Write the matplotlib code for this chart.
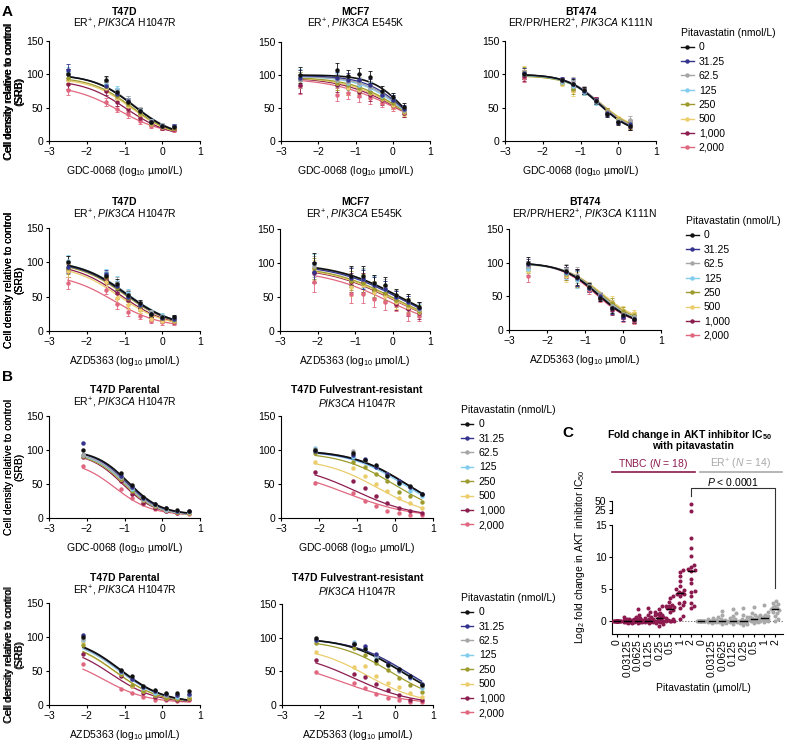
import numpy as np
import matplotlib
matplotlib.use("Agg")
import matplotlib.pyplot as plt
from matplotlib.lines import Line2D

plt.rcParams['font.family'] = ['Liberation Sans', 'DejaVu Sans']
plt.rcParams['mathtext.fontset'] = 'custom'
plt.rcParams['mathtext.rm'] = 'Liberation Sans'
plt.rcParams['mathtext.it'] = 'Liberation Sans:italic'
plt.rcParams['mathtext.bf'] = 'Liberation Sans:bold'
plt.rcParams['axes.linewidth'] = 0.8

# ---------------- data ----------------
pita_labels = ['0', '31.25', '62.5', '125', '250', '500', '1,000', '2,000']
colors = ['#111111', '#34348f', '#a6a6a6', '#82cdee', '#9d9b2e', '#ebcd6c', '#8c1d4f', '#e0677f']

x_a = [-2.5, -1.5, -1.2, -0.9, -0.6, -0.3, 0.0, 0.3]
x_b = [-2.1, -1.1, -0.8, -0.5, -0.2, 0.1, 0.4, 0.7]

# fits: (top, bottom, logIC50, hill) per pitavastatin dose
pts_a1 = [[100, 91, 73, 58, 45, 28, 23, 21], [107, 83, 70, 60, 45, 29, 23, 22],
          [100, 90, 75, 62, 47, 30, 24, 23], [103, 85, 78, 62, 46, 30, 24, 23],
          [95, 82, 68, 55, 42, 27, 22, 20], [92, 80, 65, 52, 40, 26, 21, 20],
          [86, 75, 58, 48, 35, 25, 20, 18], [77, 59, 48, 40, 30, 22, 19, 16]]
fit_a1 = [(100, 5, -0.75, 0.8), (100, 5, -0.75, 0.8), (100, 5, -0.72, 0.8), (100, 5, -0.73, 0.8),
          (96, 5, -0.8, 0.8), (94, 5, -0.82, 0.8), (92, 5, -0.95, 0.75), (84, 8, -1.15, 0.7)]
err_a1 = [8, 6, 5, 5, 4, 3, 3, 3]

pts_a2 = [[100, 108, 98, 101, 97, 76, 66, 51], [95, 95, 93, 92, 85, 70, 62, 48],
          [93, 92, 90, 88, 82, 70, 62, 47], [97, 93, 88, 85, 80, 68, 65, 47],
          [92, 88, 85, 80, 75, 65, 58, 45], [95, 88, 80, 78, 72, 63, 55, 44],
          [85, 85, 80, 75, 70, 62, 55, 42], [83, 70, 73, 68, 65, 58, 52, 42]]
fit_a2 = [(100, 0, 0.3, 1.0), (99, 0, 0.28, 0.85), (98, 0, 0.27, 0.8), (98, 0, 0.25, 0.75),
          (97, 0, 0.22, 0.65), (97, 0, 0.2, 0.6), (97, 0, 0.18, 0.55), (96, 0, 0.15, 0.5)]
err_a2 = [12, 10, 10, 9, 9, 7, 7, 6]

pts_a3 = [[100, 91, 85, 76, 60, 41, 28, 22], [102, 92, 86, 75, 61, 42, 29, 25],
          [103, 90, 88, 77, 60, 43, 30, 31], [100, 89, 83, 74, 58, 42, 30, 25],
          [104, 88, 78, 74, 60, 45, 32, 24], [105, 87, 75, 75, 61, 45, 33, 27],
          [97, 91, 83, 76, 62, 44, 30, 23], [95, 90, 82, 75, 62, 45, 30, 24]]
fit_a3 = [(100, 10, -0.5, 1.0), (100, 10, -0.48, 1.0), (100, 12, -0.47, 1.0), (99, 10, -0.5, 1.0),
          (98, 12, -0.45, 0.95), (98, 14, -0.45, 0.95), (99, 10, -0.48, 1.0), (99, 10, -0.47, 1.0)]
err_a3 = [7, 4, 8, 5, 4, 5, 4, 6]

pts_a4 = [[100, 80, 68, 52, 41, 25, 20, 20], [93, 83, 65, 50, 38, 25, 19, 18],
          [100, 82, 70, 53, 40, 27, 21, 19], [102, 85, 72, 55, 40, 27, 22, 18],
          [92, 78, 62, 48, 36, 24, 19, 16], [88, 72, 48, 38, 30, 18, 15, 15],
          [88, 75, 55, 45, 33, 20, 16, 14], [70, 60, 40, 28, 22, 15, 13, 13]]
fit_a4 = [(103, 5, -0.95, 0.7), (102, 5, -0.97, 0.7), (103, 5, -0.93, 0.7), (103, 5, -0.92, 0.7),
          (101, 5, -1.0, 0.7), (97, 5, -1.15, 0.7), (99, 5, -1.1, 0.7), (84, 5, -1.3, 0.7)]
err_a4 = [9, 6, 8, 6, 4, 4, 4, 4]

pts_a5 = [[100, 81, 81, 71, 68, 53, 45, 35], [87, 78, 76, 68, 62, 50, 42, 34],
          [95, 80, 78, 70, 65, 52, 44, 33], [98, 79, 77, 69, 62, 50, 42, 32],
          [92, 74, 70, 62, 56, 45, 38, 30], [90, 65, 68, 58, 52, 42, 35, 28],
          [85, 72, 72, 60, 55, 40, 32, 26], [72, 55, 55, 47, 42, 38, 25, 22]]
fit_a5 = [(100, 0, 0.2, 0.5), (98, 0, 0.15, 0.5), (99, 0, 0.18, 0.5), (99, 0, 0.15, 0.5),
          (96, 0, 0.05, 0.5), (95, 0, 0.0, 0.5), (94, 0, -0.02, 0.5), (90, 0, -0.15, 0.5)]
err_a5 = [15, 14, 14, 12, 11, 9, 10, 8]

pts_a6 = [[100, 88, 79, 64, 48, 33, 22, 16], [98, 86, 77, 63, 50, 32, 20, 17],
          [95, 90, 82, 66, 52, 36, 24, 20], [90, 84, 75, 62, 50, 35, 22, 20],
          [92, 83, 76, 64, 50, 40, 28, 22], [88, 80, 74, 65, 52, 42, 30, 25],
          [95, 85, 78, 62, 48, 30, 20, 15], [80, 82, 76, 60, 47, 32, 18, 14]]
fit_a6 = [(100, 5, -0.65, 0.9), (100, 5, -0.65, 0.9), (100, 6, -0.6, 0.9), (99, 6, -0.62, 0.9),
          (99, 8, -0.58, 0.9), (98, 10, -0.55, 0.9), (100, 5, -0.67, 0.9), (100, 5, -0.7, 0.9)]
err_a6 = [8, 8, 12, 6, 5, 8, 6, 5]

pts_b1 = [[100, 66, 48, 31, 21, 15, 12, 11], [111, 62, 45, 30, 20, 14, 11, 10],
          [92, 60, 45, 28, 19, 13, 10, 9], [93, 60, 43, 28, 19, 12, 10, 9],
          [91, 57, 40, 26, 18, 12, 9, 8], [92, 58, 42, 27, 18, 12, 9, 8],
          [90, 55, 35, 22, 15, 10, 8, 7], [76, 43, 29, 20, 13, 10, 7, 6]]
fit_b1 = [(100, 5, -0.9, 1.0), (100, 5, -0.95, 1.0), (98, 4, -0.97, 1.0), (97, 4, -0.98, 1.0),
          (96, 4, -1.0, 1.0), (96, 4, -1.0, 1.0), (96, 4, -1.05, 1.0), (85, 4, -1.25, 0.9)]

pts_b2 = [[100, 95, 85, 78, 62, 52, 47, 36], [98, 92, 87, 75, 65, 55, 45, 35],
          [101, 98, 86, 76, 64, 53, 46, 35], [103, 90, 85, 75, 62, 50, 40, 32],
          [95, 82, 75, 65, 55, 38, 32, 24], [83, 74, 62, 50, 40, 30, 22, 15],
          [67, 54, 44, 32, 22, 15, 10, 7], [51, 37, 25, 18, 11, 7, 5, 4]]
fit_b2 = [(100, 0, 0.3, 0.6), (99, 0, 0.3, 0.6), (100, 0, 0.3, 0.6), (99, 0, 0.22, 0.6),
          (97, 0, 0.0, 0.6), (88, 0, -0.45, 0.6), (80, 0, -1.05, 0.55), (74, 0, -1.3, 0.5)]

pts_b3 = [[100, 52, 42, 28, 22, 18, 18, 20], [103, 50, 38, 27, 20, 16, 15, 16],
          [97, 50, 40, 27, 20, 15, 14, 15], [95, 48, 38, 25, 18, 14, 12, 14],
          [88, 45, 30, 20, 15, 10, 9, 10], [92, 45, 28, 20, 15, 11, 10, 11],
          [75, 42, 28, 18, 12, 9, 8, 9], [60, 23, 17, 12, 8, 7, 6, 8]]
fit_b3 = [(100, 3, -1.1, 0.75), (100, 3, -1.12, 0.75), (99, 3, -1.13, 0.75), (98, 3, -1.15, 0.75),
          (96, 3, -1.25, 0.75), (95, 3, -1.25, 0.75), (88, 3, -1.35, 0.75), (72, 3, -1.55, 0.75)]

pts_b4 = [[99, 91, 83, 67, 60, 53, 43, 29], [97, 90, 87, 76, 62, 52, 42, 31],
          [98, 92, 85, 74, 61, 51, 41, 28], [97, 93, 83, 72, 60, 50, 40, 25],
          [92, 84, 75, 63, 52, 40, 30, 19], [79, 56, 58, 43, 33, 26, 18, 12],
          [67, 46, 41, 31, 23, 15, 8, 7], [49, 33, 25, 17, 10, 8, 4, 4]]
fit_b4 = [(100, 0, 0.15, 0.6), (99, 0, 0.28, 0.6), (99, 0, 0.25, 0.6), (99, 0, 0.2, 0.6),
          (97, 0, -0.1, 0.6), (88, 0, -0.75, 0.6), (80, 0, -1.1, 0.55), (70, 0, -1.45, 0.5)]

# panel C: log2 fold change in IC50
c_doses = ['0', '0.03125', '0.0625', '0.125', '0.25', '0.5', '1', '2']
tnbc = [[0] * 18,
        [0.6, 0.4, 0.3, 0.2, 0.2, 0.1, 0.1, 0, 0, 0, 0, -0.1, -0.1, -0.2, -0.2, -0.3, -0.3, 0.05],
        [1.9, 1.0, 0.7, 0.5, 0.4, 0.3, 0.2, 0.1, 0.1, 0, 0, 0, -0.1, -0.1, -0.2, -0.3, 0.2, 0.0],
        [2.0, 1.5, 1.0, 0.6, 0.4, 0.3, 0.2, 0.1, 0, 0, 0, -0.1, -0.2, -0.3, 0.1, 0.0, 0.5, -0.1],
        [2.4, 1.9, 1.5, 1.2, 1.1, 1.0, 0.9, 0.8, 0.6, 0.5, 0.3, 0.1, 0, 0, -0.1, -0.3, -0.5, -0.7],
        [4.0, 3.6, 3.0, 2.6, 2.4, 2.3, 2.2, 2.1, 2.0, 1.8, 1.5, 0.5, 0.3, 0.2, 0.1, 0, 0, 0],
        [8.0, 7.7, 7.0, 6.3, 5.5, 5.0, 4.8, 4.6, 4.4, 4.3, 4.2, 4.0, 3.0, 2.8, 2.5, 2.0, 0.8, 0.3],
        [42, 21, 12.9, 11.4, 10.1, 8.8, 8.4, 8.1, 8.0, 7.8, 6.6, 5.9, 4.7, 4.5, 3.9, 2.8, 2.4, 2.0]]
er_pos = [[0] * 14,
          [0.5, 0.3, 0.2, 0.1, 0.1, 0, 0, 0, 0, -0.1, -0.1, -0.2, -0.3, 0.05],
          [1.6, 1.0, 0.6, 0.3, 0.2, 0.1, 0, 0, -0.1, -0.2, -0.3, -0.5, 0.0, 0.1],
          [1.9, 1.2, 0.8, 0.5, 0.3, 0.2, 0.1, 0, 0, -0.1, -0.2, -0.4, 0.0, 0.1],
          [2.0, 1.0, 0.6, 0.4, 0.2, 0.1, 0, 0, -0.1, -0.2, -0.3, -0.5, -0.6, 0.0],
          [2.2, 1.3, 0.9, 0.7, 0.5, 0.4, 0.3, 0.2, 0.1, 0, 0, -0.1, -0.3, 0.6],
          [2.6, 1.4, 1.0, 0.9, 0.8, 0.7, 0.6, 0.5, 0.3, 0.2, 0.1, 0, -0.1, 0.4],
          [3.1, 2.9, 2.7, 2.4, 2.2, 2.0, 1.9, 1.8, 1.5, 1.3, 0.8, 0.3, 0.0, 2.1]]
tnbc_color = '#8c1a4f'
er_color = '#a9a9a9'

# ---------------- layout ----------------
W, H = 787, 742
fig = plt.figure(figsize=(W / 100, H / 100), dpi=100)
FS = 7.5


def add_ax(l, t, r, b):
    return fig.add_axes([l / W, 1 - b / H, (r - l) / W, (b - t) / H])


def ftext(x, y, s, **kw):
    kw.setdefault('fontsize', FS)
    return fig.text(x / W, 1 - y / H, s, **kw)


def dose_panel(box, xs, pts, fits, err, xlabel, title, sub, ty, sy, legend_at=None):
    l, t, r, b = box
    ax = add_ax(l, t, r, b)
    xx = np.linspace(xs[0], xs[-1], 200)
    for i in reversed(range(len(pts))):
        top, bot, c, h = fits[i]
        ax.plot(xx, bot + (top - bot) / (1 + 10 ** ((xx - c) * h)), color=colors[i],
                lw=1.2 if i == 0 else 0.9, zorder=2)
        if err is not None:
            ax.errorbar(xs, pts[i], yerr=err, fmt='none', ecolor=colors[i], elinewidth=0.6,
                        capsize=1.6, capthick=0.6, zorder=3)
        ax.plot(xs, pts[i], 'o', color=colors[i], ms=3.2, mew=0, zorder=4)
    ax.set_xlim(-3, 1)
    ax.set_ylim(0, 150)
    ax.set_xticks([-3, -2, -1, 0, 1])
    ax.set_yticks([0, 50, 100, 150])
    for s in ['top', 'right']:
        ax.spines[s].set_visible(False)
    ax.tick_params(length=2.5, width=0.8, pad=1.5, labelsize=FS)
    ax.set_xlabel(xlabel, fontsize=FS)
    ax.xaxis.set_label_coords(0.5, -(23 / (b - t)))
    ax.set_ylabel('Cell density relative to control\n(SRB)', fontsize=FS, linespacing=1.05)
    ax.yaxis.set_label_coords(-(l - 24) / (r - l), 0.5)
    cx = (l + r) / 2
    ftext(cx, ty, title, ha='center', va='center', fontweight='bold')
    ftext(cx, sy, sub, ha='center', va='center')
    if legend_at is not None:
        handles = [Line2D([0], [0], color=colors[i], lw=1, marker='o', ms=3.2, mew=0)
                   for i in range(len(pita_labels))]
        ax.legend(handles, pita_labels, title='Pitavastatin (nmol/L)', loc='upper left',
                  bbox_to_anchor=(legend_at[0] / W, 1 - legend_at[1] / H),
                  bbox_transform=fig.transFigure, frameon=False, fontsize=FS,
                  title_fontsize=FS, handlelength=1.2, handletextpad=0.5, labelspacing=0.42,
                  borderpad=0, borderaxespad=0, alignment='left')
    return ax


sub_t47d = r'ER$^{+}$, $\mathit{PIK3CA}$ H1047R'
sub_mcf7 = r'ER$^{+}$, $\mathit{PIK3CA}$ E545K'
sub_bt474 = r'ER/PR/HER2$^{+}$, $\mathit{PIK3CA}$ K111N'
sub_fulv = r'$\mathit{PIK3CA}$ H1047R'
lab_gdc = r'GDC-0068 (log$_{10}$ µmol/L)'
lab_azd = r'AZD5363 (log$_{10}$ µmol/L)'

dose_panel((49, 41, 200, 141), x_a, pts_a1, fit_a1, err_a1, lab_gdc, 'T47D', sub_t47d, 12, 24)
dose_panel((281, 42, 430, 141), x_a, pts_a2, fit_a2, err_a2, lab_gdc, 'MCF7', sub_mcf7, 12, 24)
dose_panel((505, 41, 656, 141), x_a, pts_a3, fit_a3, err_a3, lab_gdc, 'BT474', sub_bt474, 12, 24,
           legend_at=(681, 28))
dose_panel((49, 228, 200, 331), x_a, pts_a4, fit_a4, err_a4, lab_azd, 'T47D', sub_t47d, 202, 215)
dose_panel((280, 229, 430, 331), x_b, pts_a5, fit_a5, err_a5, lab_azd, 'MCF7', sub_mcf7, 202, 215)
dose_panel((509, 229, 661, 330), x_a, pts_a6, fit_a6, err_a6, lab_azd, 'BT474', sub_bt474, 202, 215,
           legend_at=(686, 216))
dose_panel((49, 416, 200, 518), x_b, pts_b1, fit_b1, None, lab_gdc, 'T47D Parental', sub_t47d, 390, 403)
dose_panel((281, 416, 433, 518), x_b, pts_b2, fit_b2, None, lab_gdc, 'T47D Fulvestrant-resistant',
           sub_fulv, 390, 403, legend_at=(461, 405))
dose_panel((49, 603, 200, 705), x_b, pts_b3, fit_b3, None, lab_azd, 'T47D Parental', sub_t47d, 578, 591)
dose_panel((282, 604, 433, 705), x_b, pts_b4, fit_b4, None, lab_azd, 'T47D Fulvestrant-resistant',
           sub_fulv, 578, 591, legend_at=(461, 593))

ftext(2, 12, 'A', fontsize=11, fontweight='bold', va='center')
ftext(2, 377, 'B', fontsize=11, fontweight='bold', va='center')
ftext(562, 433, 'C', fontsize=11, fontweight='bold', va='center')

# ---------------- panel C ----------------
XPX, YPX = 10.53, 6.4


def swarm_offsets(vals, d=3.6, wmax=4.8):
    vals = np.asarray(vals, float)
    offs = np.zeros(len(vals))
    placed = []
    cands = [0.0]
    k = 1
    while k * 0.8 <= wmax:
        cands += [k * 0.8, -k * 0.8]
        k += 1
    for i in np.argsort(vals):
        y = vals[i] * YPX
        best, bestd = 0.0, -1.0
        for cx in cands:
            md = min([np.hypot(cx - p, y - q) for p, q in placed], default=99.0)
            if md >= d:
                best = cx
                break
            if md > bestd:
                best, bestd = cx, md
        placed.append((best, y))
        offs[i] = best / XPX
    return offs


axC = add_ax(612, 525, 783, 634)
axU = add_ax(612, 499, 783, 513)
xl = (-0.475, 15.76)
axC.set_xlim(*xl)
axU.set_xlim(*xl)
axC.set_ylim(-2, 15)
axU.set_ylim(16.7, 55.6)
axU.patch.set_visible(False)

axC.axhline(0, color='#444444', lw=0.7, ls=(0, (1, 2)), zorder=1)
for g, (groups, col) in enumerate([(tnbc, tnbc_color), (er_pos, er_color)]):
    for j, vals in enumerate(groups):
        pos = g * 8 + j
        vals = np.asarray(vals, float)
        offs = swarm_offsets(vals)
        lo = vals <= 15
        axC.plot(pos + offs[lo], vals[lo], 'o', color=col, ms=2.9, mew=0, zorder=3)
        if (~lo).any():
            axU.plot(pos + offs[~lo], vals[~lo], 'o', color=col, ms=2.9, mew=0, zorder=3,
                     clip_on=False)
        med = np.median(vals)
        axC.plot([pos - 0.3, pos + 0.3], [med, med], color='black', lw=1.0, zorder=4)

for s in ['top', 'right']:
    axC.spines[s].set_visible(False)
for s in ['top', 'right', 'bottom']:
    axU.spines[s].set_visible(False)
axU.spines['left'].set_bounds(16.7, 50)
axC.set_yticks([0, 5, 10, 15])
axU.set_yticks([16.7, 25, 50])
axU.set_yticklabels(['', '25', '50'])
axU.set_xticks([])
axC.set_xticks(range(16))
axC.set_xticklabels(c_doses * 2, rotation=90)
axC.tick_params(length=2.5, width=0.8, pad=1.5, labelsize=FS)
axU.tick_params(length=2.5, width=0.8, pad=1.5, labelsize=FS)

# significance bracket
axC.plot([7, 7, 15, 15], [19.5, 20.8, 20.8, 5.2], color='#333333', lw=0.8, clip_on=False)
axC.text(11, 21.7, r'$\mathit{P}$ < 0.0001', ha='center', va='center', fontsize=FS)

ftext(689, 435, r'Fold change in AKT inhibitor IC$_{\mathbf{50}}$', ha='center', va='center',
      fontweight='bold')
ftext(693, 446, 'with pitavastatin', ha='center', va='center', fontweight='bold')
ftext(653, 464, r'TNBC ($\mathit{N}$ = 18)', ha='center', va='center', color=tnbc_color)
ftext(741, 464, r'ER$^{+}$ ($\mathit{N}$ = 14)', ha='center', va='center', color=er_color)
fig.add_artist(Line2D([612 / W, 695 / W], [1 - 472 / H] * 2, color=tnbc_color, lw=1.2))
fig.add_artist(Line2D([700 / W, 782 / W], [1 - 472 / H] * 2, color=er_color, lw=1.2))
ftext(580, 557, r'Log$_2$ fold change in AKT inhibitor IC$_{50}$', ha='center', va='center',
      rotation=90)
ftext(703, 688, 'Pitavastatin (µmol/L)', ha='center', va='center')

fig.savefig('out.png', dpi=100)
